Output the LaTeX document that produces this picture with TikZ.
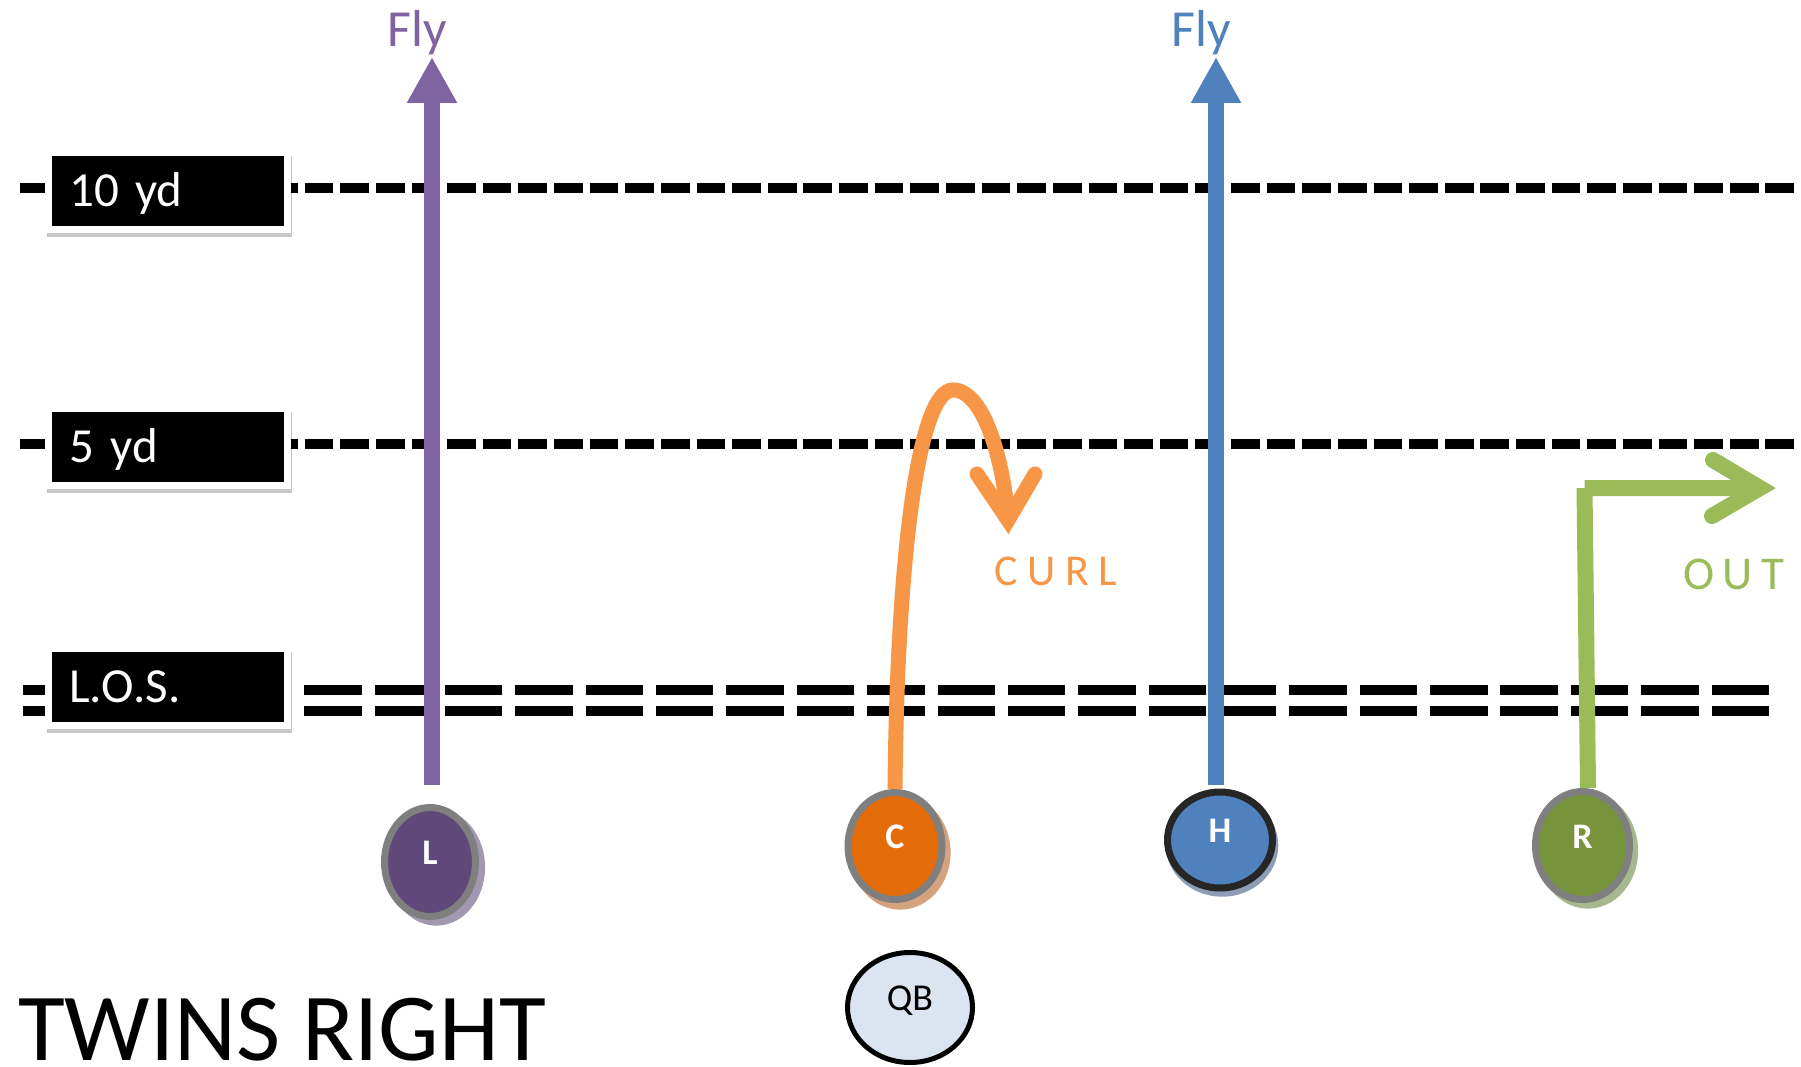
\documentclass[tikz,border=0pt]{standalone}
\usepackage{fontspec}
\setmainfont{Carlito}
\usetikzlibrary{shapes.geometric,arrows.meta,shadows}
\definecolor{flyP}{HTML}{8064A2}
\definecolor{flyB}{HTML}{4F81BD}
\definecolor{curlO}{HTML}{F79646}
\definecolor{outG}{HTML}{9BBB59}
\definecolor{fillL}{HTML}{5F497A}
\definecolor{fillC}{HTML}{E36C09}
\definecolor{fillH}{HTML}{4F81BD}
\definecolor{fillR}{HTML}{77933C}
\definecolor{fillQB}{HTML}{DBE5F1}
\definecolor{rimgray}{HTML}{7F7F7F}
\definecolor{rimdark}{HTML}{262626}
\definecolor{shL}{HTML}{A298B2}
\definecolor{shC}{HTML}{D4A37E}
\definecolor{shH}{HTML}{8C9DB5}
\definecolor{shR}{HTML}{A8B88E}
\pgfdeclarelayer{bg}
\pgfsetlayers{bg,main}
\begin{document}
\begin{tikzpicture}[x=1pt,y=-1pt,
  yardline/.style={line width=10pt, dash pattern=on 28.7pt off 6.93pt},
  losline/.style={line width=10pt, dash pattern=on 57.4pt off 12.97pt},
  yardbox/.style={anchor=north west, fill=black, text=white,
    preaction={draw=white, line width=14pt},
    minimum width=232pt, minimum height=70pt, text width=198pt,
    inner xsep=17pt, inner ysep=0pt, text height=31pt, text depth=0pt,
    align=left, font=\fontsize{49pt}{55pt}\selectfont},
  boxshadow/.style={fill=black!22},
  player/.style={ellipse, inner sep=0pt, line width=7pt, draw=rimgray,
    text=white, font=\fontsize{36pt}{40pt}\selectfont\bfseries,
    text height=23pt, text depth=18pt},
  flylabel/.style={anchor=base, inner sep=0pt, font=\fontsize{52pt}{60pt}\selectfont},
  flyroute/.style={line width=15.5pt, -{Triangle[length=46pt, width=47pt]}},
  curlroute/.style={draw=curlO, line width=15pt},
  curlhead/.style={draw=curlO, line width=15pt, line cap=round, line join=miter},
  outroute/.style={draw=outG, line width=16pt},
  outhead/.style={draw=outG, line width=16pt, line cap=round, line join=miter}
]
\clip (0,0) rectangle (1801,1067);

% yard lines
\draw[yardline] (19.6,188) -- (1795,188);
\draw[yardline] (19.6,444) -- (1795,444);
\draw[losline] (22.7,690) -- (1769,690);
\draw[losline] (22.7,711) -- (1769,711);

% labels
\node[yardbox] (ten) at (52,156) {10 yd};
\node[yardbox] (five) at (52,412) {5 yd};
\node[yardbox] (los) at (52,651.5) {L.O.S.};
\begin{pgfonlayer}{bg}
  \fill[boxshadow] ([shift={(-5,0)}]ten.north west) rectangle ([shift={(8,11)}]ten.south east);
  \fill[boxshadow] ([shift={(-5,0)}]five.north west) rectangle ([shift={(8,11)}]five.south east);
  \fill[boxshadow] ([shift={(-5,0)}]los.north west) rectangle ([shift={(8,11)}]los.south east);
\end{pgfonlayer}

% players
\node[player, fill=fillL, minimum width=91pt, minimum height=109pt,
  drop shadow={shadow xshift=6pt, shadow yshift=-5pt, shadow scale=1.07, fill=shL, opacity=1}]
  (L) at (430,862) {L};
\node[player, fill=fillC, minimum width=94pt, minimum height=107pt,
  drop shadow={shadow xshift=5pt, shadow yshift=-6pt, shadow scale=1.07, fill=shC, opacity=1}]
  (C) at (895,846) {C};
\node[player, draw=rimdark, fill=fillH, minimum width=105pt, minimum height=96pt,
  drop shadow={shadow xshift=2pt, shadow yshift=-5pt, shadow scale=1.07, fill=shH, opacity=1}]
  (H) at (1220,840) {H};
\node[player, fill=fillR, minimum width=94pt, minimum height=108pt,
  drop shadow={shadow xshift=5pt, shadow yshift=-5pt, shadow scale=1.07, fill=shR, opacity=1}]
  (R) at (1582.5,845.5) {R};
\node[ellipse, draw=black, line width=5pt, fill=fillQB, inner sep=0pt,
  minimum width=125pt, minimum height=110pt,
  font=\fontsize{38pt}{42pt}\selectfont, text height=24pt, text depth=19pt]
  (QB) at (910,1007.5) {QB};

% route end points
\coordinate (flyLtip) at (432,57);
\coordinate (flyHtip) at (1216,57);
\coordinate (curlvertex) at (1008,520);
\coordinate (curlarmL) at (977,474);
\coordinate (curlarmR) at (1035,474);
\coordinate (outcorner) at (1584.5,488);
\coordinate (outvertex) at (1760,488);
\coordinate (outarmU) at (1713,460);
\coordinate (outarmD) at (1712,516);

% routes
\draw[flyroute, draw=flyP] ([shift={(2pt,19pt)}]L.north) -- (flyLtip);
\draw[flyroute, draw=flyB] ([shift={(-4pt,3.5pt)}]H.north) -- (flyHtip);
\draw[curlroute] (C.north) .. controls (897,560) and (918,390) .. (953,390)
  .. controls (985,390) and (1004,465) .. (curlvertex);
\draw[curlhead] (curlarmL) -- (curlvertex) -- (curlarmR);
\draw[outroute] ([xshift=5.5pt]R.north) -- (outcorner) (outcorner) -- (outvertex);
\draw[outhead] (outarmU) -- (outvertex) -- (outarmD);

% route names
\node[flylabel, text=flyP] (flyL) at (417,47) {Fly};
\node[flylabel, text=flyB] (flyH) at (1201.5,47) {Fly};
\node[anchor=base west, inner sep=0pt, text=curlO,
  font=\fontsize{44pt}{50pt}\selectfont\addfontfeature{LetterSpace=22}]
  (curltxt) at (994,585) {CURL};
\node[anchor=base west, inner sep=0pt, text=outG,
  font=\fontsize{47pt}{52pt}\selectfont\addfontfeature{LetterSpace=18}]
  (outtxt) at (1683,589) {OUT};

% title
\node[anchor=base west, inner sep=0pt, font=\fontsize{96pt}{100pt}\selectfont]
  (title) at (18,1060) {TWINS RIGHT};
\end{tikzpicture}
\end{document}
